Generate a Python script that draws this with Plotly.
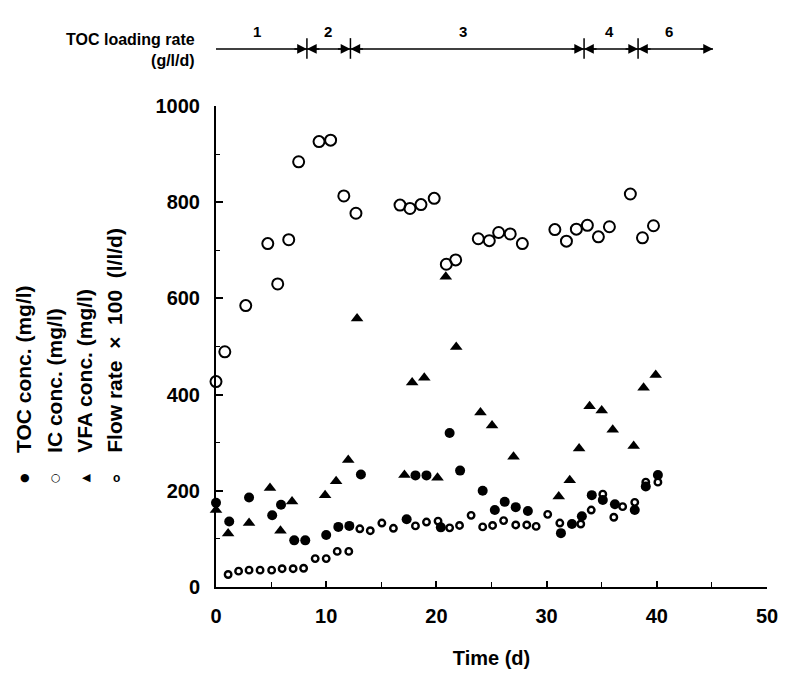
import plotly.graph_objects as go

# ---- data ----
toc_day = [0, 1.2, 3.0, 5.1, 5.9, 7.1, 8.1, 10.0, 11.1, 12.1, 13.15, 17.3, 18.1, 19.1, 20.4, 21.2,
           22.15, 24.2, 25.3, 26.2, 27.2, 28.3, 31.3, 32.3, 33.2, 34.1, 35.1, 36.2, 38.0, 39.0, 40.1]
toc_val = [175, 136, 186, 149, 171, 97, 97, 108, 125, 127, 234, 141, 232, 232, 124, 320,
           242, 200, 160, 177, 166, 158, 112, 131, 147, 191, 181, 172, 160, 209, 233]

ic_day = [0, 0.8, 2.7, 4.7, 5.6, 6.6, 7.5, 9.35, 10.4, 11.6, 12.7, 16.7, 17.6, 18.6, 19.8, 20.9,
          21.75, 23.8, 24.8, 25.65, 26.7, 27.8, 30.75, 31.8, 32.7, 33.7, 34.7, 35.7, 37.6, 38.7, 39.7]
ic_val = [427, 489, 585, 714, 630, 722, 884, 926, 929, 813, 777, 794, 787, 795, 808, 671,
          680, 724, 720, 737, 734, 714, 743, 719, 744, 752, 728, 749, 817, 726, 751]

vfa_day = [0, 1.1, 3.0, 4.9, 5.85, 6.9, 9.9, 10.9, 12.0, 12.8, 17.1, 17.8, 18.9, 20.1, 20.85,
           21.8, 24.0, 25.05, 27.0, 31.1, 32.1, 32.95, 33.9, 35.0, 36.0, 37.9, 38.8, 39.9]
vfa_val = [160, 111, 133, 206, 117, 178, 191, 220, 264, 558, 233, 425, 435, 227, 645,
           499, 363, 336, 271, 188, 222, 288, 376, 367, 327, 293, 414, 441]

flow_day = [1.1, 2.05, 3.0, 4.0, 5.05, 6.0, 7.0, 7.95, 9.0, 10.0, 11.0, 12.05, 13.05, 14.0, 15.05,
            16.1, 18.1, 19.1, 20.15, 21.2, 22.1, 23.15, 24.2, 25.1, 26.1, 27.2, 28.2, 29.05, 30.1,
            31.2, 33.1, 34.05, 35.1, 36.1, 36.9, 38.0, 39.0, 40.1]
flow_val = [26, 33, 35, 35, 35, 38, 38, 39, 59, 59, 74, 74, 121, 117, 133,
            122, 127, 135, 137, 123, 128, 149, 125, 128, 138, 129, 129, 126, 151,
            133, 131, 160, 193, 145, 167, 176, 218, 218]

# TOC loading-rate phases (day boundaries) and labels
phase_bounds = [-0.6, 8.25, 12.2, 33.4, 38.3]
phase_end = 45.1
phase_labels = ["1", "2", "3", "4", "6"]
phase_label_pos = [3.74, 10.15, 22.4, 35.7, 41.1]

NB = "\u00a0"
legend_texts = ["TOC conc. (mg/l)", "IC conc. (mg/l)", "VFA conc. (mg/l)",
                "Flow rate" + NB * 2 + "\u00d7" + NB * 2 + "100" + NB * 2 + "(l/l/d)"]
legend_syms = ["\u25cf", "\u25cb", "\u25c0", "o"]
legend_sym_fonts = [("DejaVu Sans", 11, "normal"), ("DejaVu Sans", 11, "normal"),
                    ("DejaVu Sans", 11, "normal"), ("Liberation Sans", 12, "bold")]

FONT = "Liberation Sans"
BLACK = "#000000"

fig = go.Figure()
fig.add_trace(go.Scatter(x=toc_day, y=toc_val, mode="markers", cliponaxis=False,
                         marker=dict(symbol="circle", size=10, color=BLACK)))
fig.add_trace(go.Scatter(x=ic_day, y=ic_val, mode="markers", cliponaxis=False,
                         marker=dict(symbol="circle-open", size=11, color=BLACK, line=dict(width=2))))
fig.add_trace(go.Scatter(x=vfa_day, y=vfa_val, mode="markers", cliponaxis=False,
                         marker=dict(symbol="triangle-up", size=11, color=BLACK)))
fig.add_trace(go.Scatter(x=flow_day, y=flow_val, mode="markers", cliponaxis=False,
                         marker=dict(symbol="circle-open", size=6.5, color=BLACK, line=dict(width=2.4))))

# plot geometry (pixels) for paper conversions
W, H = 790, 678
ML, MR, MT, MB = 216, 12, 106, 83
PW, PH = W - ML - MR, H - MT - MB

def py2paper(py):
    return (H - MB - py) / PH

def px2paper(px):
    return (px - ML) / PW

shapes = []
annotations = []
y_line = py2paper(48)
y_bar0, y_bar1 = py2paper(58), py2paper(37)

for b in phase_bounds:
    shapes.append(dict(type="line", xref="x", yref="paper", x0=b, x1=b, y0=y_bar0, y1=y_bar1,
                       line=dict(color=BLACK, width=1.5)))
shapes.append(dict(type="line", xref="x", yref="paper", x0=phase_bounds[0], x1=phase_end,
                   y0=y_line, y1=y_line, line=dict(color=BLACK, width=1.5)))

segs = list(zip(phase_bounds, phase_bounds[1:] + [phase_end]))
for a, b in segs:
    annotations.append(dict(x=a, y=y_line, xref="x", yref="paper", ax=14, ay=0, text="",
                            showarrow=True, arrowhead=2, arrowsize=1.3, arrowwidth=1.5,
                            arrowcolor=BLACK, standoff=0))
    annotations.append(dict(x=b, y=y_line, xref="x", yref="paper", ax=-14, ay=0, text="",
                            showarrow=True, arrowhead=2, arrowsize=1.3, arrowwidth=1.5,
                            arrowcolor=BLACK, standoff=0))

for lab, pos in zip(phase_labels, phase_label_pos):
    annotations.append(dict(x=pos, y=py2paper(20), xref="x", yref="paper", text=lab,
                            showarrow=False, font=dict(family=FONT, size=15, color=BLACK, weight="bold")))

annotations.append(dict(x=px2paper(197), y=py2paper(49), xref="paper", yref="paper",
                        text="TOC loading rate<br>(g/l/d)", xanchor="right", yanchor="middle",
                        align="right", showarrow=False,
                        font=dict(family=FONT, size=16, color=BLACK, weight="bold")))

leg_x = [19, 51, 82, 113]
for txt, sym, sf, lx in zip(legend_texts, legend_syms, legend_sym_fonts, leg_x):
    annotations.append(dict(x=px2paper(lx), y=py2paper(461), xref="paper", yref="paper",
                            text=txt, textangle=-90, xanchor="center", yanchor="bottom",
                            showarrow=False,
                            font=dict(family=FONT, size=21, color=BLACK, weight="bold")))
    annotations.append(dict(x=px2paper(lx + 2), y=py2paper(484), xref="paper", yref="paper",
                            text=sym, xanchor="center", yanchor="middle", showarrow=False,
                            font=dict(family=sf[0], size=sf[1], color=BLACK, weight=sf[2])))

fig.update_layout(
    width=W, height=H,
    margin=dict(l=ML, r=MR, t=MT, b=MB),
    paper_bgcolor="white", plot_bgcolor="white",
    showlegend=False,
    shapes=shapes, annotations=annotations,
    font=dict(family=FONT, color=BLACK),
)
fig.update_xaxes(range=[0, 50], tick0=0, dtick=10, ticks="inside", ticklen=6, tickwidth=1.5,
                 tickcolor=BLACK, showline=True, linecolor=BLACK, linewidth=2, showgrid=False,
                 zeroline=False, ticklabelstandoff=10,
                 minor=dict(dtick=5, ticks="inside", ticklen=5, tickwidth=1.2, tickcolor=BLACK, showgrid=False),
                 tickfont=dict(family=FONT, size=20, color=BLACK, weight="bold"),
                 title=dict(text="Time (d)", standoff=25,
                            font=dict(family=FONT, size=20, color=BLACK, weight="bold")))
fig.update_yaxes(range=[0, 1000], tick0=0, dtick=200, ticks="inside", ticklen=7, tickwidth=1.5,
                 tickcolor=BLACK, showline=True, linecolor=BLACK, linewidth=2, showgrid=False,
                 zeroline=False, ticklabelstandoff=10,
                 minor=dict(dtick=100, ticks="inside", ticklen=4, tickwidth=1.2, tickcolor=BLACK, showgrid=False),
                 tickfont=dict(family=FONT, size=20, color=BLACK, weight="bold"))

fig.write_html("out.html", config={"displayModeBar": False},
               post_script="document.body.style.margin='0px';")
